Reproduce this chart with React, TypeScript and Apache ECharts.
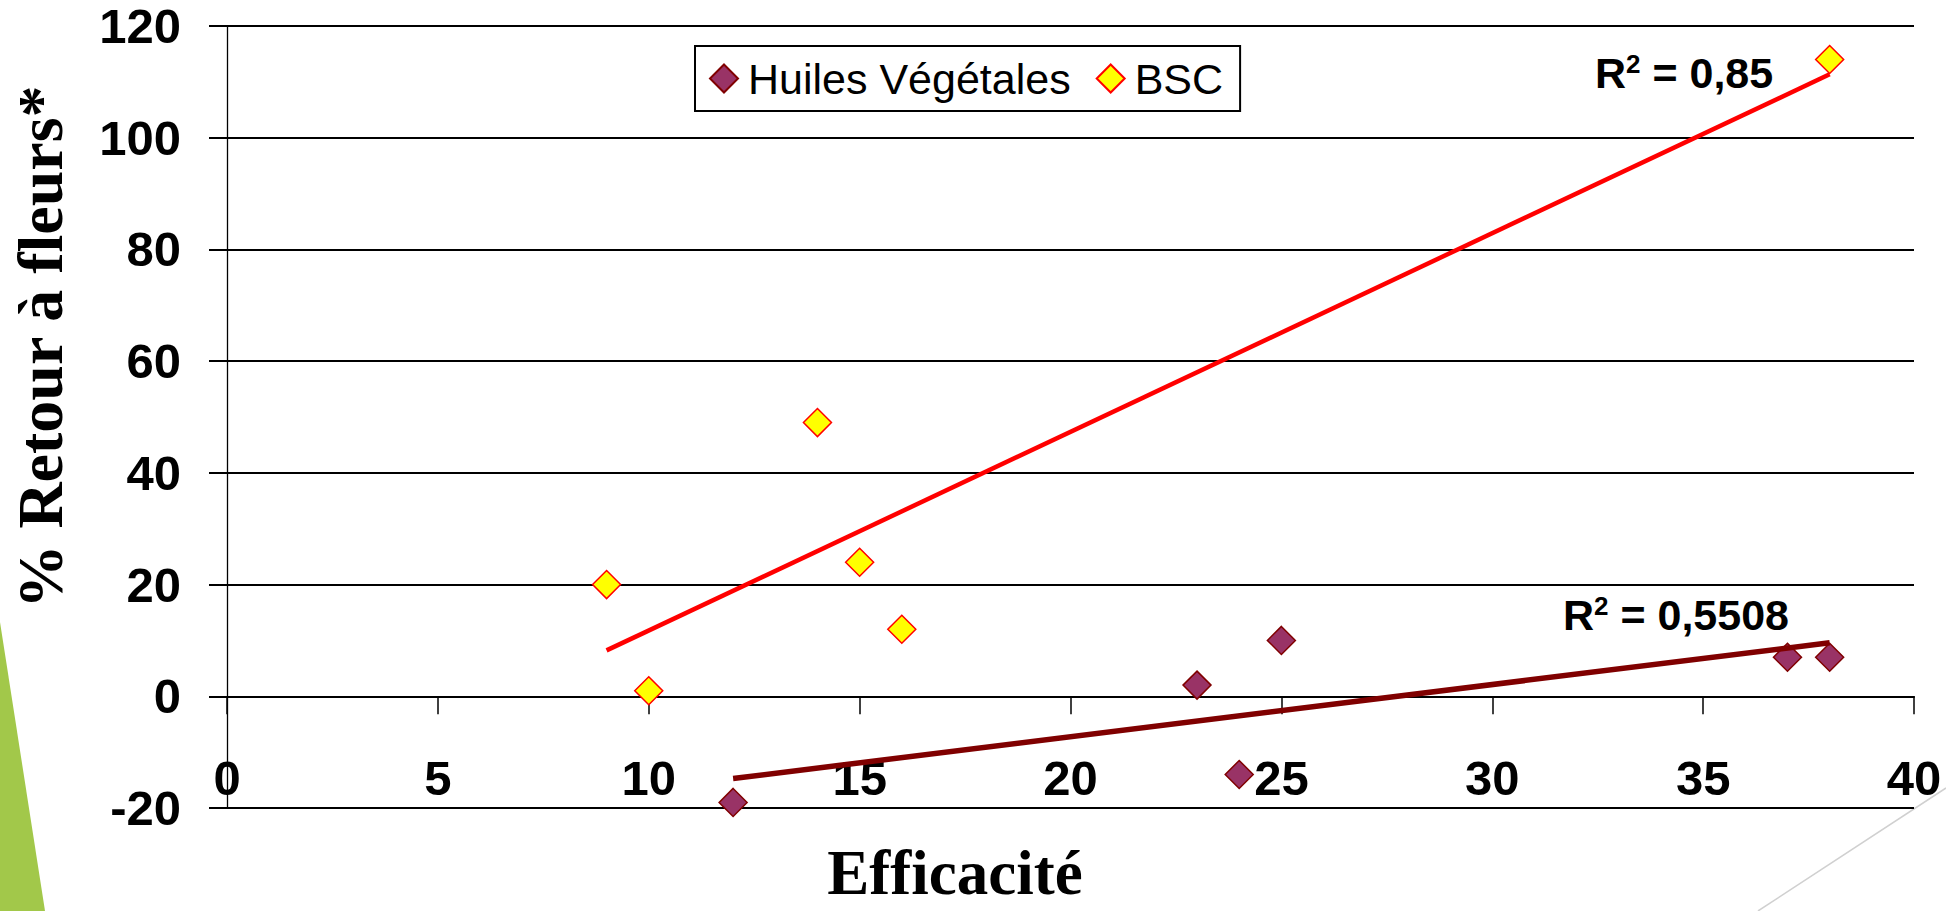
import React, { useEffect, useRef } from "react";
import * as echarts from "echarts";

// ---- Data ----
const seriesNames = ["Huiles Végétales", "BSC"];
const huilesX = [12, 23, 24, 25, 37, 38];
const huilesY = [-19, 2, -14, 10, 7, 7];
const bscX = [9, 10, 14, 15, 16, 38];
const bscY = [20, 1, 49, 24, 12, 114];
const xAxisTitle = "Efficacité";
const yAxisTitle = "% Retour à fleurs*";

function fit(xs: number[], ys: number[]) {
  const n = xs.length;
  const mx = xs.reduce((a, b) => a + b, 0) / n;
  const my = ys.reduce((a, b) => a + b, 0) / n;
  let sxx = 0, sxy = 0, syy = 0;
  for (let i = 0; i < n; i++) {
    sxx += (xs[i] - mx) ** 2;
    sxy += (xs[i] - mx) * (ys[i] - my);
    syy += (ys[i] - my) ** 2;
  }
  const slope = sxy / sxx;
  const intercept = my - slope * mx;
  const r2 = (sxy * sxy) / (sxx * syy);
  const x0 = Math.min(...xs);
  const x1 = Math.max(...xs);
  return {
    line: [
      [x0, intercept + slope * x0],
      [x1, intercept + slope * x1],
    ],
    r2Text: String(Number(r2.toFixed(4))).replace(".", ","),
  };
}

const SANS = "Liberation Sans, Arial, sans-serif";
const SERIF = "Liberation Serif, Times New Roman, serif";

export default function App() {
  const ref = useRef<HTMLDivElement>(null);
  useEffect(() => {
    if (!ref.current) return;
    const chart = echarts.init(ref.current, undefined, { renderer: "svg" });
    const fh = fit(huilesX, huilesY);
    const fb = fit(bscX, bscY);
    const r2Rich = {
      r: { fontFamily: SANS, fontWeight: "bold", fontSize: 43, lineHeight: 43, fill: "#000" },
      s: { fontFamily: SANS, fontWeight: "bold", fontSize: 26, lineHeight: 14, verticalAlign: "top", fill: "#000" },
    };
    const option: any = {
      animation: false,
      backgroundColor: "#ffffff",
      grid: { left: 227, right: 32, top: 26, bottom: 103, containLabel: false, outerBoundsMode: "none" },
      legend: {
        data: seriesNames,
        icon: "diamond",
        left: 695,
        top: 46,
        itemWidth: 28,
        itemHeight: 28,
        itemGap: 25,
        padding: [11, 17, 11, 14],
        borderColor: "#000",
        borderWidth: 2,
        backgroundColor: "#fff",
        textStyle: { fontFamily: SANS, fontSize: 43, color: "#000", lineHeight: 43, padding: [0, 0, 0, 5] },
      },
      xAxis: [
        {
          type: "value",
          min: 0,
          max: 40,
          interval: 5,
          position: "bottom",
          axisLine: { show: true, onZero: true, lineStyle: { color: "#000", width: 2 } },
          axisTick: { show: true, inside: false, length: 18, lineStyle: { color: "#000", width: 1.5 } },
          axisLabel: { show: false },
          splitLine: { show: false },
        },
        {
          type: "value",
          min: 0,
          max: 40,
          interval: 5,
          position: "bottom",
          axisLine: { show: false, onZero: false },
          axisTick: { show: false },
          axisLabel: {
            show: true,
            inside: true,
            margin: 6,
            fontFamily: SANS,
            fontWeight: "bold",
            fontSize: 49,
            color: "#000",
          },
          splitLine: { show: false },
        },
      ],
      yAxis: {
        type: "value",
        min: -20,
        max: 120,
        interval: 20,
        axisLine: { show: true, onZero: false, lineStyle: { color: "#000", width: 1.3 } },
        axisTick: { show: true, inside: false, length: 18, lineStyle: { color: "#000", width: 2 } },
        axisLabel: { margin: 46, fontFamily: SANS, fontWeight: "bold", fontSize: 49, color: "#000" },
        splitLine: { show: true, lineStyle: { color: "#000", width: 2 } },
      },
      series: [
        {
          name: seriesNames[0],
          type: "scatter",
          symbol: "diamond",
          symbolSize: 28,
          itemStyle: { color: "#993366", borderColor: "#800000", borderWidth: 1.5, opacity: 1 },
          data: huilesX.map((x, i) => [x, huilesY[i]]),
          z: 3,
        },
        {
          name: seriesNames[1],
          type: "scatter",
          symbol: "diamond",
          symbolSize: 28,
          itemStyle: { color: "#FFFF00", borderColor: "#FF0000", borderWidth: 1.5, opacity: 1 },
          data: bscX.map((x, i) => [x, bscY[i]]),
          z: 3,
        },
        {
          name: "trend-huiles",
          type: "line",
          data: fh.line,
          showSymbol: false,
          symbol: "none",
          lineStyle: { color: "#800000", width: 5.5 },
          z: 4,
          silent: true,
        },
        {
          name: "trend-bsc",
          type: "line",
          data: fb.line,
          showSymbol: false,
          symbol: "none",
          lineStyle: { color: "#FF0000", width: 4.5 },
          z: 4,
          silent: true,
        },
      ],
      graphic: [
        {
          type: "polygon",
          shape: { points: [[0, 622], [45, 911], [0, 911]] },
          style: { fill: "#A2C84A" },
          z: -1,
        },
        {
          type: "line",
          shape: { x1: 1946, y1: 788, x2: 1758, y2: 911 },
          style: { stroke: "#D0D0D0", lineWidth: 1.5 },
        },
        {
          type: "text",
          x: 40,
          y: 347,
          rotation: Math.PI / 2,
          style: {
            text: yAxisTitle,
            fontFamily: SERIF,
            fontWeight: "bold",
            fontSize: 64,
            fill: "#000",
            textAlign: "center",
            textVerticalAlign: "middle",
          },
        },
        {
          type: "text",
          x: 955,
          y: 873,
          style: {
            text: xAxisTitle,
            fontFamily: SERIF,
            fontWeight: "bold",
            fontSize: 63,
            fill: "#000",
            textAlign: "center",
            textVerticalAlign: "middle",
          },
        },
        {
          type: "text",
          x: 1595,
          y: 51,
          style: {
            text: "{r|R}{s|2}{r| = " + fb.r2Text + "}",
            rich: r2Rich,
            textAlign: "left",
            textVerticalAlign: "top",
          },
        },
        {
          type: "text",
          x: 1563,
          y: 593,
          style: {
            text: "{r|R}{s|2}{r| = " + fh.r2Text + "}",
            rich: r2Rich,
            textAlign: "left",
            textVerticalAlign: "top",
          },
        },
      ],
    };
    chart.setOption(option);
    return () => chart.dispose();
  }, []);
  return (
    <div
      ref={ref}
      style={{ position: "absolute", left: 0, top: 0, width: 1946, height: 911 }}
    />
  );
}
